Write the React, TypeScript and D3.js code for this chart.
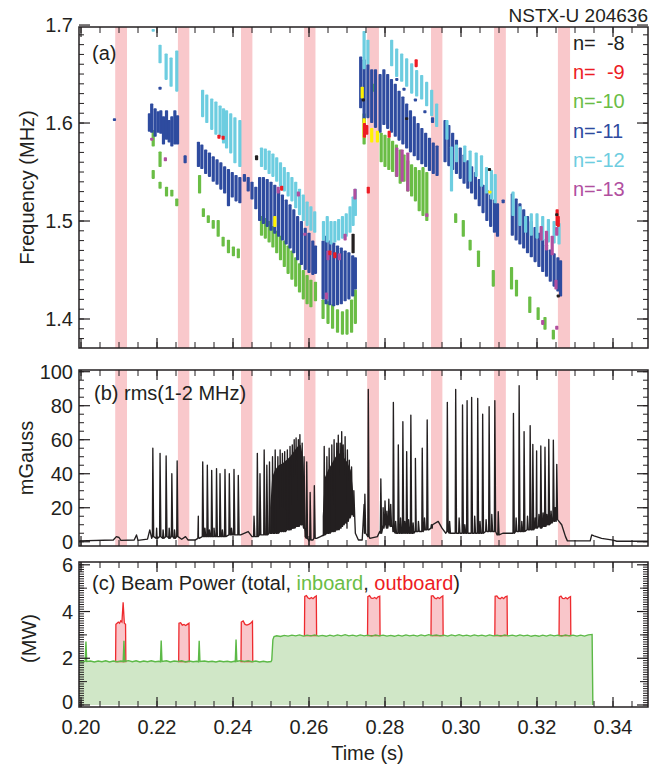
import React from 'react';
import * as d3 from 'd3';

// ---------- layout ----------
const W = 670;
const H = 769;
const L = 79;
const R = 648;
const PA = { top: 27, bottom: 348 };
const PB = { top: 370, bottom: 546 };
const PC = { top: 562, bottom: 707 };

// ---------- axes ----------
const timeDomain = [0.19947, 0.34921];
const freqDomain = [1.3704, 1.698];
const rmsDomain = [-2.5, 101];
const powerDomain = [-0.086, 6.12];
const timeTickLabels = [0.2, 0.22, 0.24, 0.26, 0.28, 0.3, 0.32, 0.34];
const freqTickLabels = [1.4, 1.5, 1.6, 1.7];
const rmsTickLabels = [0, 20, 40, 60, 80, 100];
const powerTickLabels = [0, 2, 4, 6];

// ---------- outboard-beam windows (pink bands) ----------
const bands = [
  [0.209, 0.2121], [0.2255, 0.2285], [0.2421, 0.2451], [0.2587, 0.2617],
  [0.2753, 0.2784], [0.2921, 0.2951], [0.3087, 0.3118], [0.3255, 0.3287],
];

// ---------- (a) mode bursts: [time, fHigh, fLow] (MHz) ----------
const burstsN8 = [
  [0.2462, 1.567, 1.562], [0.2716, 1.487, 1.467], [0.2743, 1.625, 1.622], [0.2857, 1.606, 1.603],
  [0.3075, 1.554, 1.551], [0.3252, 1.508, 1.505], [0.3256, 1.425, 1.422],
];
const burstsN9 = [
  [0.2363, 1.588, 1.584], [0.2374, 1.587, 1.583], [0.2528, 1.536, 1.531], [0.2655, 1.470, 1.465],
  [0.2668, 1.468, 1.462], [0.2746, 1.600, 1.585], [0.2752, 1.598, 1.588], [0.2756, 1.535, 1.528],
  [0.2811, 1.592, 1.585], [0.2882, 1.665, 1.657], [0.3253, 1.512, 1.495], [0.3256, 1.505, 1.494],
];
const burstsN10 = [
  [0.2190, 1.593, 1.576], [0.2208, 1.571, 1.555], [0.2190, 1.552, 1.543], [0.2208, 1.540, 1.533],
  [0.2225, 1.535, 1.525], [0.2239, 1.532, 1.525], [0.2252, 1.523, 1.515],
  [0.2312, 1.547, 1.528], [0.2322, 1.513, 1.504], [0.2335, 1.506, 1.498], [0.2348, 1.501, 1.492],
  [0.2361, 1.501, 1.484], [0.2374, 1.484, 1.474], [0.2388, 1.481, 1.467], [0.2401, 1.474, 1.464],
  [0.2414, 1.472, 1.462],
  [0.2475, 1.505, 1.485], [0.2485, 1.503, 1.482], [0.2495, 1.500, 1.478], [0.2505, 1.495, 1.473],
  [0.2515, 1.490, 1.467], [0.2525, 1.485, 1.460], [0.2535, 1.480, 1.453], [0.2545, 1.475, 1.446],
  [0.2555, 1.470, 1.440], [0.2565, 1.463, 1.433], [0.2575, 1.457, 1.427], [0.2585, 1.450, 1.420],
  [0.2595, 1.445, 1.415], [0.2605, 1.440, 1.412], [0.2617, 1.438, 1.418],
  [0.2637, 1.420, 1.400], [0.2650, 1.418, 1.395], [0.2662, 1.415, 1.390], [0.2675, 1.410, 1.386],
  [0.2688, 1.408, 1.384], [0.2700, 1.410, 1.384], [0.2712, 1.420, 1.386], [0.2722, 1.430, 1.395],
  [0.2745, 1.610, 1.578], [0.2770, 1.640, 1.632], [0.2790, 1.590, 1.560], [0.2800, 1.588, 1.555],
  [0.2810, 1.585, 1.552], [0.2820, 1.582, 1.550], [0.2830, 1.578, 1.545], [0.2840, 1.573, 1.538],
  [0.2850, 1.568, 1.540], [0.2860, 1.562, 1.530], [0.2870, 1.558, 1.525], [0.2880, 1.555, 1.520],
  [0.2890, 1.552, 1.510], [0.2900, 1.555, 1.505], [0.2910, 1.550, 1.500],
  [0.2986, 1.508, 1.498], [0.3006, 1.501, 1.484], [0.3024, 1.481, 1.470], [0.3046, 1.470, 1.453],
  [0.3085, 1.450, 1.433],
  [0.3133, 1.453, 1.430], [0.3146, 1.440, 1.423], [0.3181, 1.423, 1.406], [0.3203, 1.412, 1.399],
  [0.3221, 1.402, 1.389], [0.3243, 1.389, 1.379],
];
const burstsN11 = [
  [0.2088, 1.605, 1.603],
  [0.2180, 1.610, 1.591], [0.2186, 1.620, 1.590], [0.2195, 1.615, 1.586], [0.2203, 1.612, 1.590],
  [0.2210, 1.613, 1.589], [0.2217, 1.607, 1.578], [0.2225, 1.613, 1.583], [0.2232, 1.603, 1.580],
  [0.2239, 1.607, 1.576], [0.2247, 1.613, 1.578], [0.2254, 1.608, 1.578], [0.2208, 1.637, 1.634],
  [0.2274, 1.567, 1.559],
  [0.2309, 1.581, 1.555], [0.2318, 1.578, 1.553], [0.2328, 1.573, 1.548], [0.2338, 1.570, 1.545],
  [0.2348, 1.566, 1.540], [0.2358, 1.563, 1.537], [0.2368, 1.560, 1.532], [0.2378, 1.556, 1.528],
  [0.2388, 1.553, 1.515], [0.2398, 1.550, 1.524], [0.2408, 1.547, 1.520], [0.2418, 1.545, 1.518],
  [0.2430, 1.548, 1.540], [0.2440, 1.545, 1.530], [0.2450, 1.540, 1.522], [0.2460, 1.535, 1.512],
  [0.2470, 1.545, 1.500], [0.2480, 1.545, 1.497], [0.2490, 1.543, 1.494], [0.2500, 1.540, 1.490],
  [0.2510, 1.537, 1.487], [0.2520, 1.532, 1.484], [0.2530, 1.527, 1.480], [0.2540, 1.522, 1.476],
  [0.2550, 1.517, 1.472], [0.2560, 1.512, 1.467], [0.2570, 1.505, 1.460], [0.2580, 1.500, 1.455],
  [0.2590, 1.493, 1.450], [0.2600, 1.488, 1.447], [0.2610, 1.480, 1.445], [0.2617, 1.475, 1.446],
  [0.2637, 1.480, 1.420], [0.2645, 1.485, 1.415], [0.2655, 1.480, 1.414], [0.2665, 1.478, 1.413],
  [0.2675, 1.475, 1.414], [0.2685, 1.473, 1.415], [0.2695, 1.470, 1.418], [0.2705, 1.468, 1.420],
  [0.2715, 1.465, 1.423], [0.2722, 1.463, 1.430],
  [0.2736, 1.668, 1.615], [0.2745, 1.665, 1.600], [0.2755, 1.660, 1.605], [0.2765, 1.655, 1.600],
  [0.2775, 1.655, 1.595], [0.2787, 1.650, 1.590], [0.2797, 1.655, 1.598], [0.2807, 1.650, 1.594],
  [0.2817, 1.645, 1.590], [0.2827, 1.640, 1.586], [0.2837, 1.633, 1.582], [0.2847, 1.627, 1.578],
  [0.2857, 1.620, 1.574], [0.2867, 1.613, 1.570], [0.2877, 1.607, 1.566], [0.2887, 1.600, 1.562],
  [0.2897, 1.595, 1.558], [0.2907, 1.590, 1.555], [0.2917, 1.585, 1.551], [0.2927, 1.580, 1.548],
  [0.2937, 1.577, 1.546],
  [0.2831, 1.646, 1.643], [0.2850, 1.636, 1.633], [0.2880, 1.625, 1.622], [0.2905, 1.613, 1.610],
  [0.2925, 1.606, 1.600],
  [0.2958, 1.603, 1.560], [0.2968, 1.598, 1.556], [0.2978, 1.590, 1.552], [0.2988, 1.583, 1.548],
  [0.2998, 1.575, 1.543], [0.3008, 1.568, 1.538], [0.3018, 1.562, 1.533], [0.3028, 1.556, 1.528],
  [0.3038, 1.550, 1.522], [0.3048, 1.543, 1.515], [0.3058, 1.537, 1.508], [0.3068, 1.532, 1.500],
  [0.3078, 1.527, 1.494], [0.3088, 1.522, 1.488], [0.3096, 1.518, 1.484], [0.3111, 1.522, 1.518],
  [0.3135, 1.528, 1.485], [0.3145, 1.523, 1.480], [0.3155, 1.518, 1.476], [0.3165, 1.512, 1.472],
  [0.3175, 1.505, 1.467], [0.3185, 1.500, 1.463], [0.3195, 1.494, 1.458], [0.3205, 1.488, 1.453],
  [0.3215, 1.482, 1.448], [0.3225, 1.476, 1.443], [0.3235, 1.471, 1.438], [0.3245, 1.467, 1.433],
  [0.3255, 1.463, 1.428], [0.3262, 1.460, 1.423],
];
const burstsN12 = [
  [0.2190, 1.696, 1.694], [0.2208, 1.680, 1.661], [0.2224, 1.671, 1.644], [0.2237, 1.667, 1.637],
  [0.2252, 1.674, 1.632],
  [0.2320, 1.634, 1.606], [0.2331, 1.629, 1.600], [0.2344, 1.625, 1.593], [0.2355, 1.622, 1.588],
  [0.2366, 1.618, 1.586], [0.2375, 1.615, 1.579], [0.2383, 1.613, 1.574], [0.2394, 1.610, 1.569],
  [0.2405, 1.606, 1.559], [0.2418, 1.603, 1.555],
  [0.2475, 1.575, 1.555], [0.2485, 1.574, 1.552], [0.2495, 1.572, 1.548], [0.2505, 1.569, 1.545],
  [0.2515, 1.565, 1.540], [0.2525, 1.560, 1.535], [0.2535, 1.555, 1.530], [0.2545, 1.550, 1.525],
  [0.2555, 1.545, 1.520], [0.2565, 1.540, 1.513], [0.2575, 1.533, 1.506], [0.2585, 1.527, 1.500],
  [0.2595, 1.520, 1.495], [0.2605, 1.515, 1.490], [0.2615, 1.510, 1.488],
  [0.2638, 1.500, 1.480], [0.2648, 1.505, 1.478], [0.2658, 1.500, 1.476], [0.2668, 1.500, 1.478],
  [0.2678, 1.502, 1.480], [0.2688, 1.505, 1.482], [0.2698, 1.508, 1.484], [0.2708, 1.515, 1.488],
  [0.2716, 1.525, 1.495], [0.2722, 1.533, 1.505],
  [0.2745, 1.694, 1.655], [0.2755, 1.685, 1.660],
  [0.28175, 1.685, 1.658], [0.28307, 1.676, 1.647], [0.28439, 1.671, 1.642], [0.2857, 1.666, 1.637],
  [0.28702, 1.661, 1.630], [0.28833, 1.654, 1.627], [0.28965, 1.649, 1.624], [0.29096, 1.642, 1.617],
  [0.29228, 1.634, 1.607], [0.29359, 1.620, 1.596],
  [0.2963, 1.603, 1.583], [0.2975, 1.576, 1.530], [0.2988, 1.578, 1.560], [0.3010, 1.577, 1.560],
  [0.3024, 1.572, 1.540], [0.3040, 1.570, 1.545], [0.3054, 1.567, 1.535], [0.3067, 1.555, 1.528],
  [0.3080, 1.552, 1.522], [0.3090, 1.548, 1.518],
  [0.3137, 1.530, 1.505], [0.3155, 1.515, 1.495], [0.3170, 1.505, 1.488], [0.3185, 1.508, 1.485],
  [0.3200, 1.508, 1.482], [0.3215, 1.505, 1.480], [0.3230, 1.502, 1.478], [0.3245, 1.500, 1.477],
  [0.3258, 1.498, 1.476],
];
const burstsN13 = [
  [0.2186, 1.585, 1.582], [0.2222, 1.565, 1.561], [0.2519, 1.535, 1.528], [0.2572, 1.530, 1.525],
  [0.2589, 1.488, 1.485], [0.2646, 1.427, 1.420], [0.2650, 1.470, 1.460], [0.2680, 1.467, 1.460],
  [0.2695, 1.487, 1.480], [0.2721, 1.533, 1.522],
  [0.2831, 1.575, 1.545], [0.2845, 1.573, 1.540], [0.2860, 1.570, 1.530], [0.2910, 1.508, 1.504],
  [0.3211, 1.495, 1.480], [0.3225, 1.490, 1.470], [0.3240, 1.485, 1.465], [0.3250, 1.440, 1.430],
  [0.3252, 1.494, 1.485], [0.3215, 1.399, 1.394], [0.3252, 1.393, 1.389],
];
const burstsOther = [
  [0.2510, 1.505, 1.494], [0.2740, 1.637, 1.625], [0.2745, 1.605, 1.585], [0.2765, 1.595, 1.580],
  [0.2780, 1.592, 1.580], [0.3076, 1.531, 1.528],
];

// ---------- (b) rms trace ----------
const rmsBase = [
  [0.1995, 0.5], [0.2085, 1.0], [0.2093, 3.0], [0.2100, 2.5], [0.2105, 0.8], [0.2140, 1.0],
  [0.2146, 4.0], [0.2150, 0.8], [0.2175, 1.5], [0.2181, 7.0], [0.2186, 2.0], [0.2200, 3.0],
  [0.2230, 2.5], [0.2255, 3.0], [0.2265, 1.5], [0.2275, 3.0], [0.2282, 1.0], [0.2300, 1.0],
  [0.2309, 3.0], [0.2350, 3.5], [0.2400, 4.0], [0.2420, 4.0], [0.2440, 6.0], [0.2450, 3.0],
  [0.2460, 3.0], [0.2500, 5.0], [0.2550, 8.0], [0.2580, 12.0], [0.2590, 3.0], [0.2600, 0.5],
  [0.2610, 1.0], [0.2620, 2.0], [0.2630, 3.0], [0.2700, 8.0], [0.2715, 18.0], [0.2722, 5.0],
  [0.2730, 1.0], [0.2740, 1.0], [0.2745, 22.0], [0.2752, 4.0], [0.2760, 2.0], [0.2780, 3.0],
  [0.2786, 6.0], [0.2795, 10.0], [0.2820, 9.0], [0.2840, 5.0], [0.2880, 6.0], [0.2915, 7.0],
  [0.2925, 10.0], [0.2940, 12.0], [0.2950, 8.0], [0.2960, 5.0], [0.3000, 5.0], [0.3080, 6.0],
  [0.3095, 4.0], [0.3110, 5.0], [0.3130, 5.0], [0.3200, 8.0], [0.3250, 13.0], [0.3265, 10.0],
  [0.3275, 3.0], [0.3280, 0.5], [0.3340, 0.5], [0.3344, 4.0], [0.3350, 3.5], [0.3370, 2.0],
  [0.3400, 1.0], [0.3410, 0.3], [0.3492, 0.3],
];
// [time, peak, foot]
const rmsSpikes = [
  [0.2189, 55, 3], [0.2199, 8, 2], [0.2208, 52, 3], [0.2216, 7, 2], [0.2224, 50.4, 3],
  [0.2232, 8, 2], [0.2239, 40, 3], [0.2246, 7, 2], [0.2253, 47.6, 3],
  [0.23087, 15, 2], [0.23203, 47, 3], [0.2326, 8, 3], [0.23324, 45, 3], [0.2338, 7, 3],
  [0.23439, 42, 3], [0.2350, 8, 3], [0.23566, 43, 3], [0.23658, 40, 3], [0.2372, 7, 3],
  [0.23789, 42.5, 3], [0.23903, 40, 4], [0.2396, 8, 4], [0.24026, 42.5, 4], [0.24139, 39, 4],
  [0.24553, 15, 3], [0.2464, 52, 3], [0.2471, 40, 4], [0.2482, 54, 4], [0.2489, 45, 4],
  [0.2496, 47, 5], [0.2504, 50, 5], [0.2511, 54, 5], [0.2518, 50, 5], [0.2524, 54, 6],
  [0.2530, 52, 6], [0.2536, 53, 6], [0.2543, 54, 7], [0.2550, 56, 7], [0.2556, 57, 8],
  [0.2561, 60, 8], [0.2566, 61, 9], [0.2572, 60, 9], [0.2576, 63, 10], [0.2582, 58, 10],
  [0.2587, 50, 8], [0.2594, 47, 2], [0.2603, 29, 1], [0.2614, 33, 2],
  [0.2640, 56, 4], [0.2647, 50, 5], [0.2653, 55, 5], [0.2660, 57, 6], [0.2666, 60, 6],
  [0.2673, 58, 7], [0.2677, 62.6, 7], [0.2682, 58, 8], [0.2686, 64.8, 9], [0.2690, 57, 10],
  [0.2695, 61.8, 11], [0.2701, 54, 12], [0.2706, 48, 14], [0.2712, 44, 16], [0.2718, 30, 15],
  [0.2747, 28, 5], [0.2756, 89.6, 3], [0.2789, 37, 5],
  [0.2795, 20, 8], [0.2800, 24, 10], [0.2805, 18, 8], [0.2810, 25, 10], [0.2815, 22, 9],
  [0.2822, 82, 6], [0.2828, 12, 5], [0.2835, 57, 5], [0.2841, 14, 5], [0.2847, 70.6, 5],
  [0.2852, 12, 5], [0.2857, 53, 5], [0.2862, 13, 5], [0.2868, 74.5, 5], [0.2874, 11, 5],
  [0.2880, 49, 6], [0.2888, 12, 6], [0.2898, 55, 6], [0.2904, 14, 7], [0.2911, 71.6, 7],
  [0.2922, 10, 8],
  [0.2964, 82, 6], [0.2970, 12, 5], [0.2986, 89.6, 5], [0.2995, 14, 5], [0.3004, 80.4, 5],
  [0.3010, 10, 5], [0.3016, 83, 5], [0.3028, 84.9, 5], [0.3036, 15, 5], [0.3044, 84.3, 5],
  [0.3050, 12, 5], [0.3057, 75, 5], [0.3066, 13, 6], [0.3074, 79.4, 6], [0.3081, 16, 6],
  [0.3089, 83, 6], [0.3098, 17.7, 4],
  [0.3138, 75.5, 5], [0.3145, 14, 6], [0.3153, 91.8, 6], [0.3160, 12, 6], [0.3166, 64.8, 6],
  [0.3175, 15, 7], [0.3182, 68.3, 7], [0.3189, 57.3, 7], [0.3195, 14, 8], [0.3199, 53.4, 8],
  [0.3205, 16, 9], [0.3210, 56.3, 8], [0.3216, 17, 9], [0.3221, 55.6, 9], [0.3226, 16, 10],
  [0.3231, 60.2, 10], [0.3237, 18, 11], [0.3243, 59.8, 12], [0.3248, 20, 12], [0.3252, 45.5, 13],
];
// solid-black regions: [time, lower, upper]
const rmsDense1 = [
  [0.2498, 5, 20], [0.2503, 5, 38], [0.2510, 5, 42], [0.2520, 6, 45], [0.2530, 6, 46],
  [0.2540, 7, 48], [0.2550, 7, 50], [0.2560, 8, 53], [0.2570, 9, 56], [0.2578, 10, 57],
  [0.2584, 10, 50], [0.2589, 6, 30],
];
const rmsDense2 = [
  [0.2636, 3, 15], [0.2642, 4, 38], [0.2650, 5, 42], [0.2660, 6, 46], [0.2670, 7, 50],
  [0.2680, 9, 52], [0.2690, 11, 50], [0.2700, 13, 47], [0.2710, 16, 42], [0.2716, 18, 30],
  [0.2720, 16, 18],
];

// ---------- (c) beam power ----------
const inboardPower = [
  [0.1995, 1.87], [0.2005, 1.84], [0.2011, 1.87], [0.2013, 2.72], [0.2015, 1.86], [0.2025, 1.88],
  [0.2035, 1.84], [0.2045, 1.88], [0.2055, 1.85], [0.2065, 1.89], [0.2075, 1.84], [0.2085, 1.88],
  [0.2095, 1.85], [0.2105, 1.88], [0.2111, 1.86], [0.2113, 2.75], [0.2115, 1.87], [0.2125, 1.90],
  [0.2135, 1.85], [0.2145, 1.89], [0.2155, 1.84], [0.2165, 1.88], [0.2175, 1.85], [0.2185, 1.89],
  [0.2195, 1.85], [0.2205, 1.87], [0.2209, 1.85], [0.2211, 2.76], [0.2213, 1.86], [0.2225, 1.89],
  [0.2235, 1.84], [0.2245, 1.88], [0.2255, 1.86], [0.2265, 1.89], [0.2275, 1.84], [0.2285, 1.88],
  [0.2295, 1.85], [0.2305, 1.87], [0.2309, 1.85], [0.2311, 2.75], [0.2313, 1.86], [0.2325, 1.88],
  [0.2335, 1.85], [0.2345, 1.87], [0.2355, 1.84], [0.2365, 1.88], [0.2375, 1.85], [0.2385, 1.87],
  [0.2395, 1.84], [0.2403, 1.87], [0.2406, 1.86], [0.2408, 2.80], [0.2410, 1.87], [0.2420, 1.90],
  [0.2430, 1.86], [0.2440, 1.89], [0.2450, 1.85], [0.2460, 1.88], [0.2470, 1.84], [0.2480, 1.87],
  [0.2490, 1.84], [0.2500, 1.86], [0.2502, 1.92], [0.2505, 2.80], [0.2508, 2.93], [0.2515, 2.96],
  [0.2525, 2.93], [0.2535, 2.98], [0.2545, 2.95], [0.2555, 2.99], [0.2565, 2.96], [0.2575, 3.00],
  [0.2585, 2.95], [0.2595, 2.99], [0.2605, 2.96], [0.2615, 3.00], [0.2625, 2.95], [0.2635, 2.98],
  [0.2645, 2.94], [0.2655, 2.99], [0.2665, 2.95], [0.2675, 3.00], [0.2685, 2.96], [0.2695, 3.01],
  [0.2705, 2.96], [0.2715, 2.99], [0.2725, 2.95], [0.2735, 3.00], [0.2745, 2.96], [0.2755, 2.99],
  [0.2765, 2.95], [0.2775, 3.00], [0.2785, 2.96], [0.2795, 2.99], [0.2805, 2.95], [0.2815, 2.98],
  [0.2825, 2.94], [0.2835, 2.99], [0.2845, 2.95], [0.2855, 3.00], [0.2865, 2.96], [0.2875, 2.99],
  [0.2885, 2.95], [0.2895, 3.00], [0.2905, 2.96], [0.2915, 3.01], [0.2925, 2.97], [0.2935, 3.00],
  [0.2945, 2.96], [0.2955, 2.99], [0.2965, 2.95], [0.2975, 3.00], [0.2985, 2.96], [0.2995, 3.01],
  [0.3005, 2.96], [0.3015, 2.99], [0.3025, 2.95], [0.3035, 3.00], [0.3045, 2.96], [0.3055, 2.99],
  [0.3065, 2.95], [0.3075, 3.00], [0.3085, 2.96], [0.3095, 2.99], [0.3105, 2.95], [0.3115, 3.00],
  [0.3125, 2.96], [0.3135, 2.99], [0.3145, 2.95], [0.3155, 3.00], [0.3165, 2.96], [0.3175, 2.99],
  [0.3185, 2.94], [0.3195, 2.98], [0.3205, 2.94], [0.3215, 2.99], [0.3225, 2.95], [0.3235, 3.00],
  [0.3245, 2.96], [0.3255, 2.99], [0.3265, 2.95], [0.3275, 3.00], [0.3285, 2.96], [0.3295, 2.99],
  [0.3305, 2.95], [0.3315, 2.99], [0.3325, 2.95], [0.3335, 3.00], [0.3345, 3.02], [0.3347, 0],
];
// outboard pulses: [start, end, base (inboard level), total-power readings across the top]
const outboardPulses = [
  [0.2091, 0.2118, 1.86, [3.45, 3.5, 3.55, 3.5, 3.6, 3.55, 4.4, 3.5, 3.45]],
  [0.2257, 0.2285, 1.86, [3.5, 3.52, 3.42, 3.45, 3.4, 3.45, 3.5]],
  [0.2421, 0.2452, 1.86, [3.55, 3.6, 3.45, 3.42, 3.45, 3.5, 3.58]],
  [0.2588, 0.2620, 2.97, [4.65, 4.68, 4.58, 4.55, 4.6, 4.55, 4.62, 4.67]],
  [0.2754, 0.2787, 2.97, [4.64, 4.68, 4.57, 4.56, 4.6, 4.55, 4.63, 4.66]],
  [0.2921, 0.2953, 2.97, [4.66, 4.68, 4.58, 4.55, 4.6, 4.56, 4.62, 4.67]],
  [0.3089, 0.3122, 2.97, [4.65, 4.67, 4.57, 4.55, 4.61, 4.55, 4.63, 4.66]],
  [0.3258, 0.3289, 2.97, [4.62, 4.66, 4.56, 4.55, 4.6, 4.54, 4.6, 4.64]],
];

const legendEntries = [
  { label: 'n=  -8', color: '#231f20' },
  { label: 'n=  -9', color: '#ed1c24' },
  { label: 'n=-10', color: '#6abd45' },
  { label: 'n=-11', color: '#2e4b9f' },
  { label: 'n=-12', color: '#6dcde0' },
  { label: 'n=-13', color: '#b14f9f' },
];

const FONT = '"Liberation Sans", Arial, Helvetica, sans-serif';
const INK = '#231f20';
const BAND = '#f9c8cb';

export default function App() {
  const x = d3.scaleLinear().domain(timeDomain).range([L, R]);
  const yA = d3.scaleLinear().domain(freqDomain).range([PA.bottom, PA.top]);
  const yB = d3.scaleLinear().domain(rmsDomain).range([PB.bottom, PB.top]);
  const yC = d3.scaleLinear().domain(powerDomain).range([PC.bottom, PC.top]);

  const xMinor = d3.range(0.2, 0.3476, 0.005);
  const xMajor = timeTickLabels;

  const frame = (
    p: { top: number; bottom: number },
    y: d3.ScaleLinear<number, number>,
    yMajor: number[],
    yMinor: number[],
    yMid: number[],
    key: string,
  ) => (
    <g key={key} stroke={INK} fill="none">
      {xMinor.map((t, i) => (
        <g key={'xm' + i}>
          <line x1={x(t)} x2={x(t)} y1={p.bottom} y2={p.bottom - 6} strokeWidth={1} />
          <line x1={x(t)} x2={x(t)} y1={p.top} y2={p.top + 6} strokeWidth={1} />
        </g>
      ))}
      {xMajor.map((t, i) => (
        <g key={'xM' + i}>
          <line x1={x(t)} x2={x(t)} y1={p.bottom} y2={p.bottom - 10} strokeWidth={1.2} />
          <line x1={x(t)} x2={x(t)} y1={p.top} y2={p.top + 10} strokeWidth={1.2} />
        </g>
      ))}
      {yMinor.map((v, i) => (
        <g key={'ym' + i}>
          <line x1={L} x2={L + 5} y1={y(v)} y2={y(v)} strokeWidth={1} />
          <line x1={R} x2={R - 5} y1={y(v)} y2={y(v)} strokeWidth={1} />
        </g>
      ))}
      {yMid.map((v, i) => (
        <g key={'yd' + i}>
          <line x1={L} x2={L + 8} y1={y(v)} y2={y(v)} strokeWidth={1} />
          <line x1={R} x2={R - 8} y1={y(v)} y2={y(v)} strokeWidth={1} />
        </g>
      ))}
      {yMajor.map((v, i) => (
        <g key={'yM' + i}>
          <line x1={L} x2={L + 11} y1={y(v)} y2={y(v)} strokeWidth={1.2} />
          <line x1={R} x2={R - 11} y1={y(v)} y2={y(v)} strokeWidth={1.2} />
        </g>
      ))}
      <rect x={L} y={p.top} width={R - L} height={p.bottom - p.top} strokeWidth={1.5} />
    </g>
  );

  const yLabels = (
    y: d3.ScaleLinear<number, number>,
    vals: number[],
    fmt: (v: number) => string,
    key: string,
    dyFirst = '0.36em',
  ) =>
    vals.map((v, i) => (
      <text key={key + i} x={73} y={y(v)} dy={i === 0 ? dyFirst : '0.36em'} textAnchor="end" fontSize={20} fill={INK}>
        {fmt(v)}
      </text>
    ));

  const bandRects = (p: { top: number; bottom: number }, key: string) =>
    bands.map(([a, b], i) => (
      <rect key={key + i} x={x(a)} y={p.top} width={x(b) - x(a)} height={p.bottom - p.top} fill={BAND} />
    ));

  const burstRects = (data: number[][], color: string, key: string) =>
    data.map(([t, hi, lo], i) => {
      const y0 = yA(hi);
      const h = Math.max(2.8, yA(lo) - y0);
      return <rect key={key + i} x={x(t) - 1.6} y={y0} width={3.2} height={h} fill={color} rx={0.8} />;
    });

  // rms trace: baseline readings plus spike triples, ordered in time
  const rmsPoints = [
    ...rmsBase.map(([t, v]) => [t, v]),
    ...rmsSpikes.flatMap(([t, p, f]) => [
      [t - 0.00012, f],
      [t, p],
      [t + 0.00022, f],
    ]),
  ].sort((a, b) => a[0] - b[0]);
  const rmsLine = d3.line<number[]>().x((d) => x(d[0])).y((d) => yB(d[1]))(rmsPoints) || '';
  const denseArea = d3
    .area<number[]>()
    .x((d) => x(d[0]))
    .y0((d) => yB(d[1]))
    .y1((d) => yB(d[2]));

  const inLine = d3.line<number[]>().x((d) => x(d[0])).y((d) => yC(d[1]));
  const inArea = d3
    .area<number[]>()
    .x((d) => x(d[0]))
    .y0(() => yC(0))
    .y1((d) => yC(d[1]));

  const pulsePts = (pl: any[]) => {
    const [a, b, base, tops] = pl as [number, number, number, number[]];
    const n = tops.length;
    const pts: number[][] = [[a, base]];
    tops.forEach((v, i) => pts.push([a + 0.00008 + ((b - a - 0.00016) * i) / (n - 1), v]));
    pts.push([b, base]);
    return pts;
  };

  return (
    <svg width={W} height={H} style={{ display: 'block', position: 'absolute', left: 0, top: 0 }} fontFamily={FONT}>
      <rect width={W} height={H} fill="#fff" />
      <defs>
        <clipPath id="clipA">
          <rect x={L} y={PA.top} width={R - L} height={PA.bottom - PA.top} />
        </clipPath>
        <clipPath id="clipB">
          <rect x={L} y={PB.top} width={R - L} height={PB.bottom - PB.top} />
        </clipPath>
        <clipPath id="clipC">
          <rect x={L} y={PC.top} width={R - L} height={PC.bottom - PC.top} />
        </clipPath>
      </defs>

      <text x={648} y={22} textAnchor="end" fontSize={19} fill={INK}>NSTX-U 204636</text>

      {/* ----- panel (a) ----- */}
      <g clipPath="url(#clipA)">
        {bandRects(PA, 'ba')}
        {burstRects(burstsN10, '#6abd45', 'g')}
        {burstRects(burstsN11, '#2e4b9f', 'b')}
        {burstRects(burstsN12, '#6dcde0', 'c')}
        {burstRects(burstsN13, '#b14f9f', 'm')}
        {burstRects(burstsOther, '#fff200', 'y')}
        {burstRects(burstsN9, '#ed1c24', 'r')}
        {burstRects(burstsN8, '#231f20', 'k')}
      </g>
      {frame(PA, yA, freqTickLabels, d3.range(1.38, 1.6951, 0.01), [], 'fa')}
      {yLabels(yA, freqTickLabels, (v) => v.toFixed(1), 'la')}
      <text x={92} y={60} fontSize={20} fill={INK}>(a)</text>
      {legendEntries.map((e, i) => (
        <text key={'lg' + i} x={573} y={50 + i * 29.2} fontSize={20} fill={e.color} style={{ whiteSpace: 'pre' }}>
          {e.label}
        </text>
      ))}
      <text transform={`translate(34,${(PA.top + PA.bottom) / 2}) rotate(-90)`} textAnchor="middle" fontSize={20} fill={INK}>
        Frequency (MHz)
      </text>

      {/* ----- panel (b) ----- */}
      <g clipPath="url(#clipB)">
        {bandRects(PB, 'bb')}
        <path d={denseArea(rmsDense1) || ''} fill="#231f20" />
        <path d={denseArea(rmsDense2) || ''} fill="#231f20" />
        <path d={rmsLine} fill="none" stroke="#231f20" strokeWidth={1.35} strokeLinejoin="round" />
      </g>
      {frame(PB, yB, rmsTickLabels, d3.range(0, 100.1, 5), [], 'fb')}
      {yLabels(yB, rmsTickLabels, (v) => String(v), 'lb')}
      <text x={94} y={400} fontSize={20} fill={INK}>(b) rms(1-2 MHz)</text>
      <text transform={`translate(33,${(PB.top + PB.bottom) / 2}) rotate(-90)`} textAnchor="middle" fontSize={20} fill={INK}>
        mGauss
      </text>

      {/* ----- panel (c) ----- */}
      <g clipPath="url(#clipC)">
        <path d={inArea(inboardPower) || ''} fill="#d0e7c7" />
        {outboardPulses.map((pl, i) => {
          const pts = pulsePts(pl);
          return (
            <path
              key={'op' + i}
              d={(d3.line<number[]>().x((d) => x(d[0])).y((d) => yC(d[1]))(pts) || '') + 'Z'}
              fill="#f9c6ca"
              stroke="#ee2a2e"
              strokeWidth={1.3}
            />
          );
        })}
        <path d={inLine(inboardPower) || ''} fill="none" stroke="#5cb947" strokeWidth={1.4} />
      </g>
      {frame(PC, yC, powerTickLabels, d3.range(0, 6.01, 0.1), [1, 3, 5], 'fc')}
      {yLabels(yC, powerTickLabels, (v) => String(v), 'lc', '0.2em')}
      <text x={92} y={590} fontSize={20} fill={INK}>
        (c) Beam Power (total, <tspan fill="#6abd45">inboard</tspan>, <tspan fill="#ed1c24">outboard</tspan>)
      </text>
      <text transform={`translate(36,${(PC.top + PC.bottom) / 2 + 4}) rotate(-90)`} textAnchor="middle" fontSize={20} fill={INK}>
        (MW)
      </text>

      {timeTickLabels.map((t, i) => (
        <text key={'xt' + i} x={x(t)} y={734} textAnchor="middle" fontSize={20} fill={INK}>
          {t.toFixed(2)}
        </text>
      ))}
      <text x={(L + R) / 2 + 4} y={760} textAnchor="middle" fontSize={20} fill={INK}>Time (s)</text>
    </svg>
  );
}
